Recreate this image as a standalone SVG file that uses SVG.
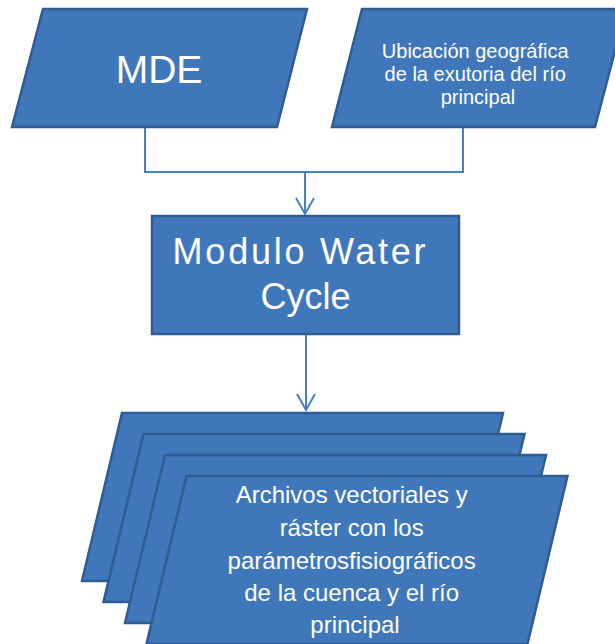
<svg xmlns="http://www.w3.org/2000/svg" width="615" height="644" viewBox="0 0 615 644">
  <style>
    .shape { fill: #4077bb; stroke: #2f5c91; stroke-width: 2.5; stroke-linejoin: miter; }
    .label { fill: #ffffff; font-family: "Liberation Sans", Arial, sans-serif; text-anchor: middle; }
    .wire { fill: none; stroke: #4a7fc0; stroke-width: 2; }
  </style>
  <defs>
    <!-- open V arrowhead, drawn pointing along +x so orient="auto" follows the line -->
    <marker id="arrow-open" viewBox="0 0 20 20" refX="18" refY="10" markerWidth="20" markerHeight="20" markerUnits="userSpaceOnUse" orient="auto">
      <path d="M2,1 L18,10 L2,19" fill="none" stroke="#4a7fc0" stroke-width="2"/>
    </marker>
  </defs>
  <rect width="615" height="644" fill="#ffffff"/>

  <!-- connectors -->
  <g id="connectors">
    <path class="wire" d="M145,128 V172 H463 V128"/>
    <path class="wire" d="M305,172 V214" marker-end="url(#arrow-open)"/>
    <path class="wire" d="M306,335 V410" marker-end="url(#arrow-open)"/>
  </g>

  <!-- input: digital elevation model -->
  <g id="node-mde">
    <polygon class="shape" points="43,9 307,9 277,127 12,127"/>
    <text class="label" x="159" y="83" font-size="39">MDE</text>
  </g>

  <!-- input: outlet location -->
  <g id="node-exutoria">
    <polygon class="shape" points="362,9 626,9 595,127 332,127"/>
    <text class="label" font-size="20">
      <tspan x="478" y="58">Ubicación geográfica</tspan>
      <tspan x="478" y="81">de la exutoria del río</tspan>
      <tspan x="478" y="104">principal</tspan>
    </text>
  </g>

  <!-- processing module -->
  <g id="node-modulo">
    <rect class="shape" x="152" y="216" width="307" height="118"/>
    <text class="label" font-size="36">
      <tspan x="305.5" y="264" textLength="253" lengthAdjust="spacing">Modulo Water</tspan>
      <tspan x="305.5" y="309">Cycle</tspan>
    </text>
  </g>

  <!-- output: stack of files -->
  <g id="node-archivos">
    <polygon class="shape" points="122,413 503,413 463,581 82,581"/>
    <polygon class="shape" points="143.5,434 524.5,434 484.5,602 103.5,602"/>
    <polygon class="shape" points="165,455 546,455 506,623 125,623"/>
    <polygon class="shape" points="186.5,476 567.5,476 527.5,644 146.5,644"/>
    <text class="label" font-size="24">
      <tspan x="355" y="503">Archivos vectoriales y</tspan>
      <tspan x="355" y="536">ráster con los</tspan>
      <tspan x="355" y="569">parámetrosfisiográficos</tspan>
      <tspan x="355" y="601">de la cuenca y el río</tspan>
      <tspan x="355" y="633">principal</tspan>
    </text>
  </g>
</svg>
